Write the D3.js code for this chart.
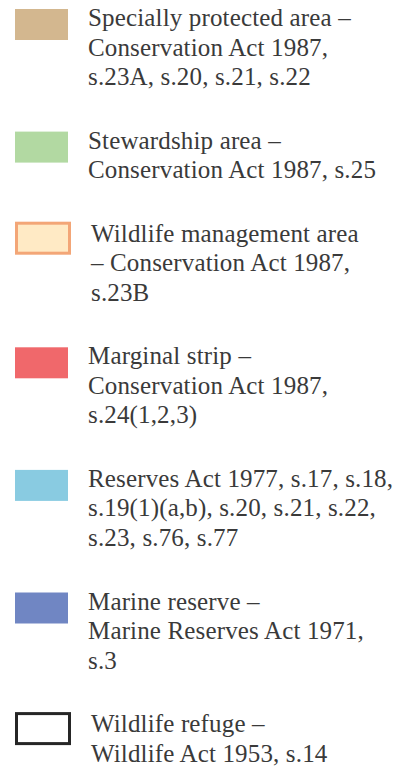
<!DOCTYPE html>
<html>
<head>
<meta charset="utf-8">
<script src="https://cdn.jsdelivr.net/npm/d3@7"></script>
<style>
  html, body { margin: 0; padding: 0; background: #fff; }
</style>
</head>
<body>
<svg id="legend"></svg>
<script>
// legend categories, each label split into the lines shown
const categories = ['special', 'stewardship', 'wildlifeMgmt', 'marginal', 'reserves', 'marine', 'refuge']
const labels = [
  ['Specially protected area –', 'Conservation Act 1987,', 's.23A, s.20, s.21, s.22'],
  ['Stewardship area –', 'Conservation Act 1987, s.25'],
  ['Wildlife management area', '– Conservation Act 1987,', 's.23B'],
  ['Marginal strip –', 'Conservation Act 1987,', 's.24(1,2,3)'],
  ['Reserves Act 1977, s.17, s.18,', 's.19(1)(a,b), s.20, s.21, s.22,', 's.23, s.76, s.77'],
  ['Marine reserve –', 'Marine Reserves Act 1971,', 's.3'],
  ['Wildlife refuge –', 'Wildlife Act 1953, s.14']
]
const fills = ['#d3b78f', '#b2d9a2', '#ffeac5', '#f0686b', '#89cbe1', '#7086c3', '#ffffff']
const strokes = ['none', 'none', '#f3a677', 'none', 'none', 'none', '#262626']

const width = 406
const height = 770
const lineH = 29.5
const gap = 63.6
const firstBase = 26

const fill = d3.scaleOrdinal().domain(categories).range(fills)
const stroke = d3.scaleOrdinal().domain(categories).range(strokes)

// baseline of each item's first line, stacked by number of lines
let bases = []
let yb = firstBase
labels.forEach(l => { bases.push(yb); yb += (l.length - 1) * lineH + gap })

const items = categories.map((c, i) => ({ key: c, lines: labels[i], base: bases[i] }))

const svg = d3.select('#legend')
  .attr('width', width)
  .attr('height', height)

const g = svg.selectAll('.item')
  .data(items)
  .enter()
  .append('g')
  .attr('class', 'item')
  .attr('transform', d => 'translate(0,' + d.base + ')')

g.append('rect')
  .attr('x', d => stroke(d.key) === 'none' ? 15 : 16.5)
  .attr('y', d => stroke(d.key) === 'none' ? -17 : -18.5)
  .attr('width', 53)
  .attr('height', d => stroke(d.key) === 'none' ? 31 : 30)
  .attr('fill', d => fill(d.key))
  .attr('stroke', d => stroke(d.key))
  .attr('stroke-width', 3)

g.append('text')
  .attr('x', d => stroke(d.key) === 'none' ? 88 : 91)
  .attr('font-family', '"Liberation Serif", serif')
  .attr('font-size', '25px')
  .attr('letter-spacing', '0.15px')
  .attr('fill', '#3a3a3a')
  .selectAll('tspan')
  .data(d => d.lines)
  .enter()
  .append('tspan')
  .attr('x', function () { return this.parentNode.getAttribute('x') })
  .attr('y', (d, i) => i * lineH)
  .text(d => d)
</script>
</body>
</html>
